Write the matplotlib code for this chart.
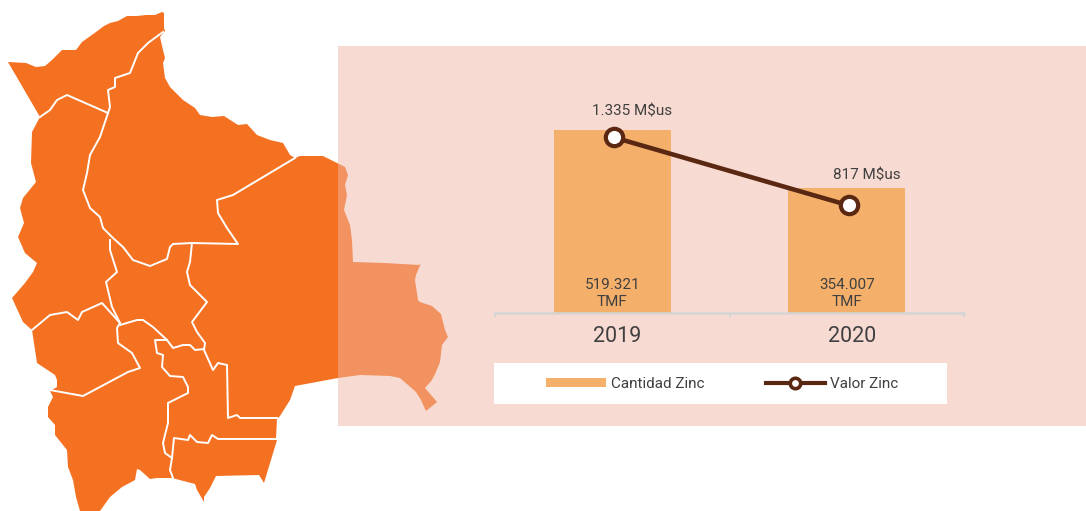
import matplotlib
matplotlib.use("Agg")
import matplotlib.pyplot as plt
from matplotlib.lines import Line2D
from matplotlib.patches import Patch, Polygon, Rectangle
from matplotlib.transforms import ScaledTranslation

plt.rcParams['font.family'] = ['Roboto', 'DejaVu Sans']

# Chart data
years = ['2019', '2020']
cantidad_zinc = [519321, 354007]
valor_zinc = [1335, 817]
cantidad_labels = ['519.321\nTMF', '354.007\nTMF']
valor_labels = ['1.335 M$us', '817 M$us']

# Map of Bolivia, traced in image pixels
map_outline = [
    (8,62),(26,63),(36,67),(45,66),(52,60),(62,50),(76,50),(82,42),(96,32),(104,26),(110,23),(118,21),
    (127,16),(137,16),(146,15),(155,15),(162,12),(164,13),(164,28),(165,31),(160,37),(163,50),(165,58),
    (163,63),(165,78),(170,87),(178,95),(183,100),(195,108),(200,115),(212,117),(224,116),(238,125),
    (247,124),(257,135),(270,140),(283,143),(290,155),(295,158),(300,156),(323,156),(335,162),(345,167),
    (348,175),(345,185),(347,195),(344,210),(350,225),(352,240),(353,262),(385,263),(419,265),(421,263),
    (416,275),(415,280),(418,300),(420,302),(432,306),(441,314),(445,330),(448,337),(442,345),(440,362),
    (436,372),(432,380),(425,388),(437,402),(426,411),(421,400),(416,392),(400,378),(390,376),(360,375),
    (338,378),(295,386),(290,400),(280,416),(277,419),(276,438),(277,440),(264,483),(259,475),(216,476),
    (210,488),(204,497),(204,502),(197,490),(195,484),(172,478),(157,478),(150,479),(140,470),(137,469),
    (135,480),(122,487),(110,497),(100,511),(80,511),(76,497),(73,480),(68,467),(67,450),(55,435),(55,425),
    (48,417),(48,407),(53,397),(50,391),(57,387),(57,380),(55,375),(37,363),(32,330),(23,322),(12,298),
    (25,283),(33,272),(37,263),(25,253),(18,237),(24,223),(20,208),(23,198),(36,182),(31,163),(32,132),
    (40,117),
]
map_borders = [
    [(40,117),(50,110),(57,100),(67,95),(108,113)],
    [(163,32),(148,43),(138,53),(130,73),(115,78),(115,87),(108,90),(110,107),(108,113),(100,137),(90,155),
     (87,173),(83,190),(90,208),(100,217),(103,228),(113,238),(123,247),(133,260),(150,266),(167,259),
     (170,247),(173,244),(192,243),(238,244),(227,228),(218,213),(217,200),(233,195),(295,158)],
    [(110,240),(110,250),(117,272),(106,282),(112,307),(120,323)],
    [(32,330),(50,315),(67,312),(78,320),(82,312),(102,303),(120,323),(117,328),(118,343),(132,353),(140,368),
     (128,372),(83,396),(50,390)],
    [(192,243),(190,262),(187,272),(190,285),(207,302),(192,322),(197,332),(205,343),(204,350),(213,370),
     (218,363),(227,365),(228,418),(237,415),(240,418),(277,418)],
    [(120,325),(137,320),(143,320),(153,327),(167,340),(173,348),(183,345),(190,345),(195,350),(204,349)],
    [(167,340),(155,340),(157,353),(163,355),(162,367),(170,376),(183,377),(188,387),(188,393),(168,403),
     (168,423),(163,443),(165,453),(172,458),(170,470),(173,478)],
    [(172,458),(174,438),(188,440),(190,435),(197,442),(208,443),(212,435),(218,439),(277,439)],
]

ORANGE = '#F57122'
BAR = '#F4B06B'
LINE = '#5A2812'
TEXT = '#404040'
W, H = 1086, 511

fig = plt.figure(figsize=(W / 100, H / 100), dpi=100, facecolor='white')

# Backdrop layer in image pixels: map, translucent panel, legend box
bg = fig.add_axes([0, 0, 1, 1])
bg.set_xlim(0, W)
bg.set_ylim(H, 0)
bg.axis('off')
bg.add_patch(Polygon(map_outline, closed=True, facecolor=ORANGE, edgecolor='none', zorder=1))
for seg in map_borders:
    xs, ys = zip(*seg)
    bg.plot(xs, ys, color='white', lw=1.4, solid_joinstyle='round', zorder=2)
bg.add_patch(Rectangle((338, 46), W - 338, 380, facecolor='#EFB5A3', alpha=0.49, edgecolor='none', zorder=3))
bg.add_patch(Rectangle((494, 363), 453, 41, facecolor='white', edgecolor='none', zorder=4))

# Chart
ax_left, ax_right, ax_bottom, ax_top = 495, 964, 312.5, 100
ax = fig.add_axes([ax_left / W, 1 - ax_bottom / H, (ax_right - ax_left) / W, (ax_bottom - ax_top) / H])
ax.patch.set_alpha(0)
positions = [0, 1]
ax.bar(positions, cantidad_zinc, width=0.5, color=BAR, zorder=2)
ax.set_xlim(-0.5, 1.5)
ax.set_ylim(0, 519321 * (ax_bottom - ax_top) / 182)
ax.set_yticks([])
for s in ('left', 'right', 'top'):
    ax.spines[s].set_visible(False)
ax.spines['bottom'].set_color('#D5D5D5')
ax.spines['bottom'].set_linewidth(1.8)
ax.set_xticks([-0.5, 0.5, 1.5])
ax.set_xticklabels([])
ax.tick_params(axis='x', length=3, width=1.4, color='#D5D5D5')

ax2 = ax.twinx()
ax2.set_ylim(0, 1335 * (ax_bottom - ax_top) / 175)
ax2.set_yticks([])
for s in ax2.spines.values():
    s.set_visible(False)
shift = ScaledTranslation(2 / 100, 0, fig.dpi_scale_trans)
ax2.plot(positions, valor_zinc, color=LINE, lw=3.3, marker='o', ms=12.5, mew=3.0,
         mfc='white', mec=LINE, transform=ax2.transData + shift, zorder=5, solid_capstyle='round')

for x, year in zip(positions, years):
    ax.annotate(year, (x, 0), xytext=(3.8, -17.3), textcoords='offset points', ha='center', va='center',
                fontsize=15.5, color=TEXT)
for x, lab in zip(positions, cantidad_labels):
    ax.annotate(lab, (x, 0), xytext=(0, 2.5), textcoords='offset points', ha='center', va='bottom',
                fontsize=11, color=TEXT, linespacing=1.25)
for x, v, lab, dy in zip(positions, valor_zinc, valor_labels, (19.0, 21.2)):
    ax2.annotate(lab, (x, v), xytext=(14.3, dy), textcoords='offset points', ha='center', va='center',
                 fontsize=11, color=TEXT)

# Legend
handles = [
    Patch(facecolor=BAR, edgecolor='none', label='Cantidad Zinc'),
    Line2D([0], [0], color=LINE, lw=3.0, marker='o', ms=7.5, mew=2.6, mfc='white', mec=LINE, label='Valor Zinc'),
]
fig.legend(handles=handles, loc='center', bbox_to_anchor=(722.5 / W, 1 - 384 / H), ncol=2, frameon=False,
           fontsize=11, labelcolor=TEXT, handlelength=3.9, handleheight=0.6, handletextpad=0.33,
           columnspacing=4.0, borderpad=0, borderaxespad=0)

fig.savefig('out.png', dpi=100)
